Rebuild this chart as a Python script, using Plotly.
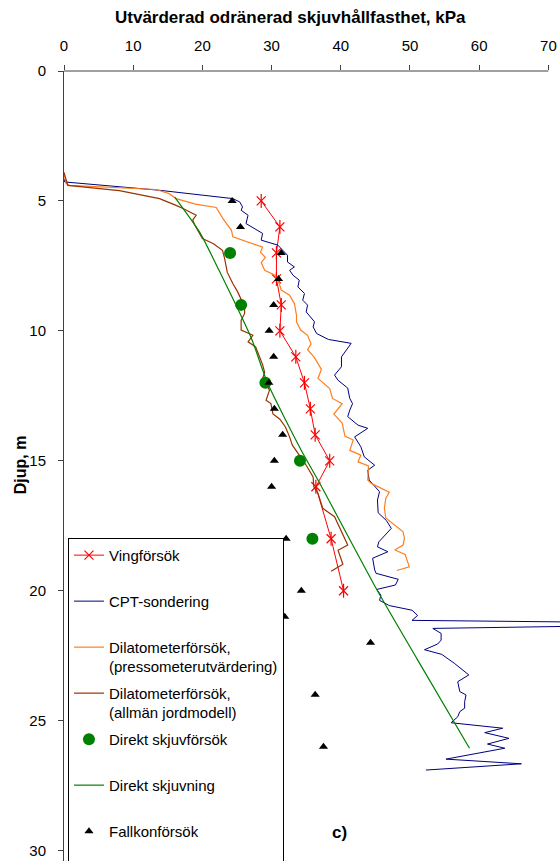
import plotly.graph_objects as go

# ---------------- data ----------------
ving_depth = [5, 6, 7, 8, 9, 10, 11, 12, 13, 14, 15, 16, 18, 20]
ving_val = [28.5, 31.2, 30.7, 30.7, 31.4, 31.2, 33.5, 34.75, 35.6, 36.3, 38.4, 36.4, 38.6, 40.4]

cpt_depth = [4.15, 4.27, 4.59, 4.91, 5.04, 5.23, 5.36, 5.55, 5.87, 6.25, 6.51, 6.70, 7.09, 7.35,
             7.54, 7.67, 7.86, 8.05, 8.31, 8.56, 8.82, 9.01, 9.27, 9.65, 9.85, 10.1, 10.33, 10.48,
             10.74, 11.0, 11.38, 11.7, 11.9, 12.2, 12.6, 12.8, 13.05, 13.3, 13.63, 13.75, 14.08,
             14.46, 14.85, 15.17, 15.36, 15.74, 16.19, 16.51, 17.0, 17.3, 17.6, 18.12, 18.31, 18.5,
             18.75, 19.2, 19.33, 19.56, 19.78, 19.95, 20.17, 20.37, 20.57, 20.75, 20.95, 21.14,
             21.27, 21.45, 21.64, 21.9, 22.05, 22.27, 22.45, 22.79, 23.24, 23.5, 23.88, 24.01,
             24.27, 24.52, 24.65, 24.85, 25.08, 25.29, 25.46, 25.68, 25.9, 26.06, 26.48, 26.66, 26.9]
cpt_val = [0.0, 0.1, 13.8, 24.4, 25.4, 25.8, 25.6, 26.6, 26.3, 28.7, 28.5, 30.9, 32.3, 32.3,
           33.3, 32.6, 33.1, 34.0, 33.8, 34.75, 34.5, 35.2, 35.0, 36.2, 36.0, 36.5, 38.2, 41.5,
           40.8, 40.1, 40.1, 39.1, 39.6, 41.0, 41.3, 41.7, 41.3, 41.0, 42.5, 43.9, 42.0,
           42.9, 43.4, 44.9, 43.9, 44.1, 45.6, 45.3, 45.4, 46.6, 47.3, 45.5, 45.3, 46.8,
           44.6, 44.9, 45.1, 48.3, 47.9, 45.2, 45.8, 45.6, 47.0, 50.3, 51.1, 50.3,
           98.0, 53.3, 54.5, 54.5, 54.0, 52.1, 54.6, 56.4, 58.5, 56.9, 57.2, 58.1,
           57.9, 57.9, 57.2, 56.9, 55.95, 63.4, 60.8, 64.3, 61.2, 63.7, 55.2, 66.1, 52.3]

dil_p_depth = [3.95, 4.33, 4.4, 4.56, 4.72, 4.91, 5.12, 5.25, 5.65, 6.13, 6.38, 6.58, 6.78, 6.98,
               7.17, 7.37, 7.67, 7.86, 8.18, 8.43, 8.63, 8.95, 9.4, 9.65, 9.97, 10.17, 10.5,
               10.72, 11.03, 11.48, 11.83, 12.22, 12.6, 12.8, 13.2, 13.55, 14.05, 14.2, 14.6,
               14.78, 15.04, 15.2, 15.74, 15.87, 16.21, 16.45, 16.83, 17.2, 17.73, 17.99, 18.24,
               18.43, 18.6, 19.08, 19.22]
dil_p_val = [0.0, 0.3, 0.8, 13.3, 15.2, 16.2, 19.0, 22.0, 22.9, 24.2, 24.4, 26.4, 28.7, 28.4,
             29.1, 28.5, 29.0, 30.5, 31.1, 31.4, 32.6, 33.3, 33.6, 33.6, 34.2, 35.2, 35.7,
             35.2, 36.2, 37.2, 36.7, 38.4, 38.8, 40.2, 39.0, 40.2, 40.6, 41.8, 41.3,
             42.9, 42.5, 44.0, 43.9, 44.4, 47.0, 46.5, 46.3, 46.5, 49.0, 49.2, 49.0,
             47.8, 49.3, 49.9, 48.1]

dil_a_depth = [3.9, 4.4, 4.6, 4.91, 5.17, 5.29, 5.55, 5.74, 5.93, 6.45, 6.65, 6.9, 7.2, 7.75,
               8.18, 8.5, 9.08, 9.33, 9.6, 9.97, 10.17, 10.42, 10.62, 11.0, 11.3, 11.6, 11.83,
               12.28, 12.47, 12.67, 12.8, 13.2, 13.4, 13.7, 14.08, 14.4, 14.78, 15.17, 15.62,
               16.0, 16.25, 16.83, 17.15, 17.5, 18.24, 18.44, 18.98, 19.25]
dil_a_val = [0.0, 0.55, 8.0, 13.8, 16.2, 17.2, 19.1, 18.6, 18.9, 20.0, 21.6, 22.9, 23.2, 23.6,
             24.4, 25.1, 26.1, 26.1, 25.6, 25.6, 27.3, 26.6, 27.7, 28.3, 28.7, 29.0, 28.7,
             29.7, 29.5, 29.2, 29.9, 30.2, 31.2, 32.0, 32.6, 33.0, 34.0, 35.0, 36.0,
             36.1, 36.7, 37.4, 39.1, 39.7, 41.0, 39.6, 40.3, 38.6]

ds_depth = [7, 9, 12, 15, 18]
ds_val = [24.0, 25.6, 29.1, 34.1, 35.9]

dsl_depth = [4.85, 6.2, 7.67, 10.3, 12.0, 14.6, 15.74, 20.0, 22.66, 26.06]
dsl_val = [16.0, 19.6, 22.4, 27.1, 29.4, 34.3, 36.7, 45.3, 51.1, 58.6]

fk_depth = [5, 6, 7, 8, 9, 10, 11, 12, 13, 14, 15, 16, 18, 20, 21, 22, 24, 26]
fk_val = [24.3, 25.5, 31.4, 31.0, 30.3, 29.65, 30.3, 29.6, 30.4, 31.6, 30.4, 30.0,
          32.1, 34.3, 31.9, 44.3, 36.3, 37.5]

x_ticks = [0, 10, 20, 30, 40, 50, 60, 70]
y_ticks = [0, 5, 10, 15, 20, 25, 30]

names = ["Vingförsök", "CPT-sondering",
         "Dilatometerförsök,<br>(pressometerutvärdering)",
         "Dilatometerförsök,<br>(allmän jordmodell)",
         "Direkt skjuvförsök", "Direkt skjuvning", "Fallkonförsök"]

FONT = "Arial, Liberation Sans, sans-serif"

fig = go.Figure()

def nm(s):
    return s if "<br>" in s else s + "<br>&nbsp;"

fig.add_trace(go.Scatter(x=ving_val, y=ving_depth, mode="lines+markers", name=nm(names[0]),
                         legendgroup="a",
                         line=dict(color="#FF0000", width=1),
                         marker=dict(symbol="x-thin-open", size=9, color="#FF0000",
                                     line=dict(color="#FF0000", width=1.2))))
fig.add_trace(go.Scatter(x=ving_val, y=ving_depth, mode="markers", showlegend=False,
                         legendgroup="a",
                         marker=dict(symbol="line-ns-open", size=10, color="#FF0000",
                                     line=dict(color="#FF0000", width=1.2))))
fig.add_trace(go.Scatter(x=cpt_val, y=cpt_depth, mode="lines", name=nm(names[1]), legendgroup="b",
                         line=dict(color="#000080", width=1)))
fig.add_trace(go.Scatter(x=dil_p_val, y=dil_p_depth, mode="lines", name=names[2], legendgroup="c",
                         line=dict(color="#FF7F1E", width=1.2)))
fig.add_trace(go.Scatter(x=dil_a_val, y=dil_a_depth, mode="lines", name=names[3], legendgroup="d",
                         line=dict(color="#993300", width=1.2)))
fig.add_trace(go.Scatter(x=ds_val, y=ds_depth, mode="markers", name=nm(names[4]), legendgroup="e",
                         marker=dict(symbol="circle", size=12, color="#008000")))
fig.add_trace(go.Scatter(x=dsl_val, y=dsl_depth, mode="lines", name=nm(names[5]), legendgroup="f",
                         line=dict(color="#008000", width=1.2, shape="spline", smoothing=0.6)))
fig.add_trace(go.Scatter(x=fk_val, y=fk_depth, mode="markers", name=nm(names[6]), legendgroup="g",
                         marker=dict(symbol="triangle-up", size=8, color="#000000")))

fig.update_layout(
    width=560, height=861,
    margin=dict(l=64, r=0, t=71, b=0, autoexpand=False),
    paper_bgcolor="white", plot_bgcolor="white",
    font=dict(family=FONT, size=15, color="black"),
    showlegend=True,
    legend=dict(x=0.008, y=0.409, xanchor="left", yanchor="top",
                bordercolor="black", borderwidth=1, bgcolor="white",
                valign="top", tracegroupgap=4, font=dict(family=FONT, size=15),
                itemwidth=30),
    xaxis=dict(range=[0, 71.68], side="top", tickvals=x_ticks, ticks="outside", ticklen=5,
               tickcolor="#404040", showline=False, showgrid=False, zeroline=False,
               ticklabelstandoff=8, tickfont=dict(size=15)),
    yaxis=dict(range=[30.4, 0], tickvals=y_ticks, ticks="outside", ticklen=5,
               tickcolor="#404040", showline=True, linecolor="#404040", linewidth=1,
               showgrid=False, zeroline=False, ticklabelstandoff=9, tickfont=dict(size=15)),
    shapes=[dict(type="line", xref="x", yref="paper", x0=0, x1=70, y0=1, y1=1,
                 line=dict(color="#404040", width=1))],
    annotations=[
        dict(text="<b>Utvärderad odränerad skjuvhållfasthet, kPa</b>", xref="paper", yref="paper",
             x=0.456, y=1, yshift=54, showarrow=False, xanchor="center", yanchor="middle",
             font=dict(size=17)),
        dict(text="<b>Djup, m</b>", xref="paper", yref="paper", x=0, xshift=-44, y=0.501,
             textangle=-90, showarrow=False, xanchor="center", yanchor="middle",
             font=dict(size=16)),
        dict(text="<b>c)</b>", xref="x", yref="y", x=39.8, y=29.3, showarrow=False,
             font=dict(size=17)),
    ],
)

fig.write_html("out.html")
